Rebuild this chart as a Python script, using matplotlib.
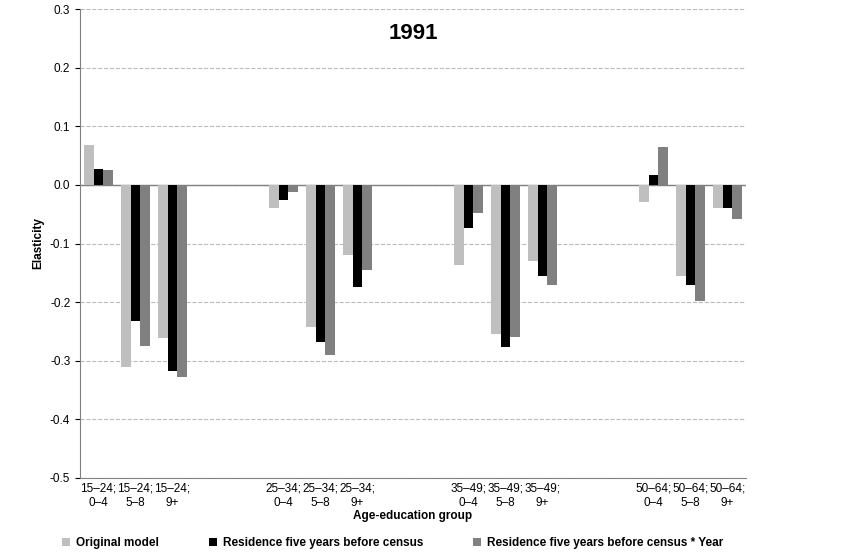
import numpy as np
import matplotlib.pyplot as plt

groups = ["15\u201324;\n0\u20134", "15\u201324;\n5\u20138", "15\u201324;\n9+",
          "25\u201334;\n0\u20134", "25\u201334;\n5\u20138", "25\u201334;\n9+",
          "35\u201349;\n0\u20134", "35\u201349;\n5\u20138", "35\u201349;\n9+",
          "50\u201364;\n0\u20134", "50\u201364;\n5\u20138", "50\u201364;\n9+"]
original = [0.068, -0.31, -0.262, -0.04, -0.242, -0.12, -0.137, -0.255, -0.13, -0.03, -0.155, -0.04]
residence = [0.027, -0.232, -0.318, -0.025, -0.268, -0.175, -0.073, -0.276, -0.155, 0.017, -0.17, -0.04]
res_year = [0.025, -0.275, -0.328, -0.012, -0.29, -0.145, -0.048, -0.26, -0.17, 0.065, -0.198, -0.058]
yticks = [-0.5, -0.4, -0.3, -0.2, -0.1, 0.0, 0.1, 0.2, 0.3]
series = ["Original model", "Residence five years before census",
          "Residence five years before census * Year"]
colors = ["#BFBFBF", "#000000", "#808080"]

plt.rcParams['font.family'] = ['Liberation Sans', 'DejaVu Sans']
fig = plt.figure(figsize=(8.44, 5.57), dpi=100)
ax = fig.add_axes([80/844, 1-478/557, 666/844, 469/557])

# 18 slots: 3 bar groups per age band, 2 blank slots between bands
slots = np.array([i + (i // 3) * 2 for i in range(12)]) + 0.5
w = 0.27
for k, (vals, c, lab) in enumerate(zip([original, residence, res_year], colors, series)):
    ax.bar(slots + (k - 1) * w, vals, w, color=c, label=lab, zorder=3)

ax.set_xlim(0, 18)
ax.set_ylim(-0.5, 0.3)
ax.set_yticks(yticks)
ax.set_yticklabels([f"{v:.1f}" for v in yticks], fontsize=8.5)
ax.set_xticks(slots)
ax.set_xticklabels(groups, fontsize=8.5)
ax.tick_params(axis='x', length=0)
ax.grid(axis='y', linestyle='--', color='#BBBBBB', linewidth=0.8, zorder=0)
ax.axhline(0, color='#808080', linewidth=1, zorder=2)
for s in ['top', 'right']:
    ax.spines[s].set_visible(False)
ax.spines['left'].set_color('#808080')
ax.spines['bottom'].set_color('#808080')
ax.set_ylabel("Elasticity", fontsize=8.5, fontweight='bold')
ax.set_xlabel("Age-education group", fontsize=8.5, fontweight='bold', labelpad=1)
ax.text(0.5, 0.97, "1991", transform=ax.transAxes, ha='center', va='top',
        fontsize=16, fontweight='bold')
fig.legend(loc='lower center', ncol=3, frameon=False, bbox_to_anchor=(0.465, -0.005),
           prop={'size': 8.5, 'weight': 'bold'}, handlelength=0.7, handleheight=0.7,
           columnspacing=4.2, handletextpad=0.5)
fig.savefig("out.png", dpi=100)
